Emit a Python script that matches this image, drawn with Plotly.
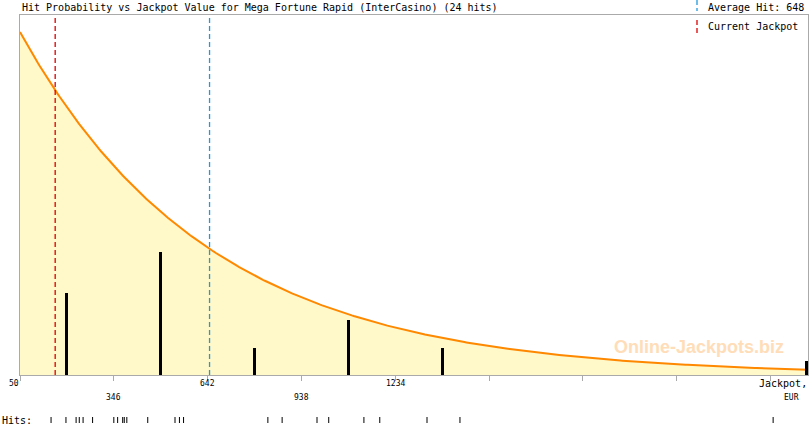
import plotly.graph_objects as go
import numpy as np

# ---- data ----
title_text = "Hit Probability vs Jackpot Value for Mega Fortune Rapid (InterCasino) (24 hits)"
x_min, x_max = 50, 2536
tick_vals = [50, 346, 642, 938, 1234, 1530, 1826, 2122, 2418]
tick_labels = ["50", "346", "642", "938", "1234"]
bin_centers = [198, 494, 790, 1086, 1382, 2531]
bin_counts = [6, 9, 2, 4, 2, 1]
hits = [148, 195, 227, 237, 249, 279, 346, 358, 374, 379, 387, 453, 539, 553, 566,
        832, 877, 987, 1024, 1135, 1185, 1334, 1438, 2426]
average_hit = 648
current_jackpot = 161

# ---- geometry ----
W, H = 810, 425
ml, mr, mt, mb = 20, 2, 15, 50
pw, ph = W - ml - mr, H - mt - mb

def py(p):  # pixel y -> paper y
    return (H - mb - p) / ph

def px(p):  # pixel x -> paper x
    return (p - ml) / pw

mono = "DejaVu Sans Mono"

# exponential model curve (min 50, mean = average hit)
xs = np.linspace(x_min, x_max, 400)
ys = np.exp(-(xs - x_min) / (average_hit - x_min))

fig = go.Figure()
fig.add_trace(go.Scatter(x=xs, y=ys, mode="lines", line=dict(color="#FF8800", width=2),
                         fill="tozeroy", fillcolor="#FFF8C8", yaxis="y", hoverinfo="skip"))
fig.add_trace(go.Bar(x=bin_centers, y=bin_counts, width=9.5, marker=dict(color="black", line=dict(width=0)),
                     yaxis="y2", hoverinfo="skip"))

shapes = []
shapes.append(dict(type="line", xref="x", yref="paper", x0=current_jackpot, x1=current_jackpot, y0=0, y1=1,
                   line=dict(color="#DD0000", width=1.3, dash="5px,3px"), layer="above"))
shapes.append(dict(type="line", xref="x", yref="paper", x0=average_hit, x1=average_hit, y0=0, y1=1,
                   line=dict(color="#2299DD", width=1.3, dash="5px,3px"), layer="above"))
shapes.append(dict(type="line", xref="paper", yref="paper", x0=px(697), x1=px(697), y0=py(0), y1=py(11),
                   line=dict(color="#2299DD", width=1.3, dash="5px,3px")))
shapes.append(dict(type="line", xref="paper", yref="paper", x0=px(697), x1=px(697), y0=py(20), y1=py(33),
                   line=dict(color="#DD0000", width=1.3, dash="5px,3px")))
for h in hits:
    shapes.append(dict(type="line", xref="x", yref="paper", x0=h, x1=h, y0=py(417), y1=py(423),
                       line=dict(color="black", width=1)))

ann = []
ann.append(dict(text=title_text, xref="paper", yref="paper", x=px(20), y=py(7), xanchor="left",
                yanchor="middle", showarrow=False, font=dict(family=mono, size=10, color="black")))
ann.append(dict(text="Average Hit: " + str(average_hit), xref="paper", yref="paper", x=px(706), y=py(7),
                xanchor="left", yanchor="middle", showarrow=False, font=dict(family=mono, size=10, color="black")))
ann.append(dict(text="Current Jackpot", xref="paper", yref="paper", x=px(706), y=py(27),
                xanchor="left", yanchor="middle", showarrow=False, font=dict(family=mono, size=10, color="black")))
for i, lab in enumerate(tick_labels):
    row = 383 if i % 2 == 0 else 397
    ann.append(dict(text=lab, xref="x", yref="paper", x=tick_vals[i], y=py(row), xanchor="center",
                    yanchor="middle", showarrow=False, xshift=-6 if i == 0 else 0,
                    font=dict(family=mono, size=8, color="black")))
ann.append(dict(text="Jackpot,", xref="paper", yref="paper", x=px(809), y=py(384), xanchor="right",
                yanchor="middle", showarrow=False, font=dict(family=mono, size=10, color="black")))
ann.append(dict(text="EUR", xref="paper", yref="paper", x=px(791), y=py(397), xanchor="center",
                yanchor="middle", showarrow=False, font=dict(family=mono, size=8, color="black")))
ann.append(dict(text="Hits:", xref="paper", yref="paper", x=px(0), y=py(420), xanchor="left",
                yanchor="middle", showarrow=False, font=dict(family=mono, size=10, color="black")))
ann.append(dict(text="<b>Online-Jackpots.biz</b>", xref="paper", yref="paper", x=px(699), y=py(347),
                xanchor="center", yanchor="middle", showarrow=False,
                font=dict(family="Liberation Sans", size=18, color="#FFDDB8")))

fig.update_layout(
    width=W, height=H, margin=dict(l=ml, r=mr, t=mt, b=mb, pad=0, autoexpand=False),
    paper_bgcolor="white", plot_bgcolor="white", showlegend=False,
    xaxis=dict(range=[x_min, x_max], tickvals=tick_vals, ticks="outside", ticklen=5, tickcolor="#AAAAAA",
               showticklabels=False, showgrid=False, zeroline=False, showline=True, linecolor="#AAAAAA",
               linewidth=1, mirror=True),
    yaxis=dict(range=[0, 360 / 343], showticklabels=False, showgrid=False, zeroline=False,
               showline=True, linecolor="#AAAAAA", linewidth=1, mirror=True, ticks=""),
    yaxis2=dict(range=[0, 360 / 13.67], overlaying="y", showticklabels=False, showgrid=False,
                zeroline=False, showline=False, ticks=""),
    shapes=shapes, annotations=ann, bargap=0,
)

fig.write_html("out.html", config={"displayModeBar": False},
               post_script="document.body.style.margin='0';document.body.style.overflow='hidden';")
